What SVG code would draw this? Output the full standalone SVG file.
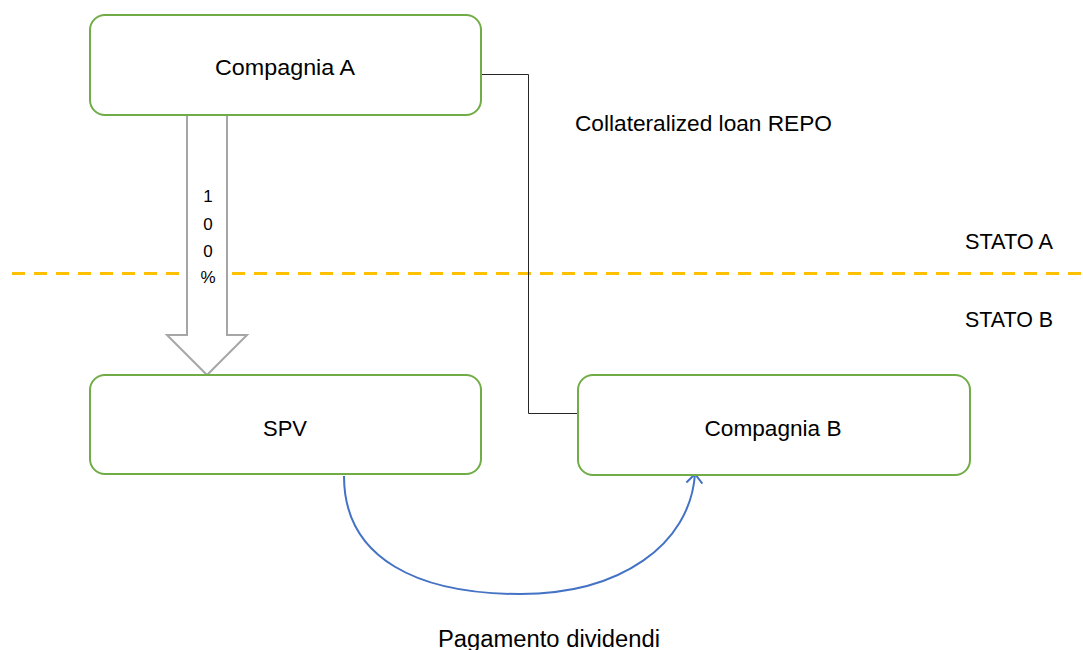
<svg xmlns="http://www.w3.org/2000/svg" width="1083" height="650" viewBox="0 0 1083 650">
  <style>
    .box { fill: #ffffff; stroke: #70ad47; stroke-width: 2; }
    .lbl { font-family: "Liberation Sans", Arial, sans-serif; font-size: 22px; fill: #000000; }
    .mid { text-anchor: middle; }
    .pct { font-family: "Liberation Sans", Arial, sans-serif; font-size: 17px; fill: #000000; text-anchor: middle; }
  </style>
  <defs>
    <marker id="openHead" viewBox="0 0 20 20" refX="10" refY="10" markerWidth="20" markerHeight="20" markerUnits="userSpaceOnUse" orient="auto">
      <path d="M1,2 L10,10 L1,18" fill="none" stroke="#4472c4" stroke-width="2"/>
    </marker>
  </defs>
  <rect width="1083" height="650" fill="#ffffff"/>

  <!-- border between the two states -->
  <line x1="12" y1="273.5" x2="1083" y2="273.5" stroke="#ffc000" stroke-width="3" stroke-dasharray="13 9"/>

  <g id="connectors">
    <!-- REPO link between the two companies -->
    <polyline points="481,74.5 528.5,74.5 528.5,413.5 578,413.5" fill="none" stroke="#262626" stroke-width="1"/>
    <!-- 100% ownership block arrow -->
    <path d="M187,115 L227,115 L227,335 L247,335 L207,375 L167,335 L187,335 Z" fill="#ffffff" stroke="#a6a6a6" stroke-width="2" stroke-linejoin="miter"/>
    <!-- dividend flow -->
    <path d="M344,476 C344,560 420,594 520,594 C620,594 690,545 695,474" fill="none" stroke="#4472c4" stroke-width="2" marker-end="url(#openHead)"/>
  </g>

  <g id="node-compagnia-a">
    <rect class="box" x="90" y="15" width="391" height="100" rx="15" ry="15"/>
    <text class="lbl mid" x="285" y="75" textLength="140" lengthAdjust="spacingAndGlyphs">Compagnia A</text>
  </g>

  <g id="node-spv">
    <rect class="box" x="90" y="375" width="391" height="99" rx="15" ry="15"/>
    <text class="lbl mid" x="285" y="436">SPV</text>
  </g>

  <g id="node-compagnia-b">
    <rect class="box" x="578" y="375" width="392" height="100" rx="15" ry="15"/>
    <text class="lbl mid" x="773" y="436" textLength="137" lengthAdjust="spacingAndGlyphs">Compagnia B</text>
  </g>

  <g id="labels">
    <text class="pct" x="208" y="202">1</text>
    <text class="pct" x="208" y="230">0</text>
    <text class="pct" x="208" y="257">0</text>
    <text class="pct" x="208" y="283">%</text>
    <text class="lbl" x="575" y="131" textLength="257" lengthAdjust="spacingAndGlyphs">Collateralized loan REPO</text>
    <text class="lbl" x="965" y="249" textLength="88" lengthAdjust="spacingAndGlyphs">STATO A</text>
    <text class="lbl" x="965" y="327" textLength="88" lengthAdjust="spacingAndGlyphs">STATO B</text>
    <text class="lbl" x="438" y="647" style="font-size:23px" textLength="222" lengthAdjust="spacingAndGlyphs">Pagamento dividendi</text>
  </g>
</svg>
